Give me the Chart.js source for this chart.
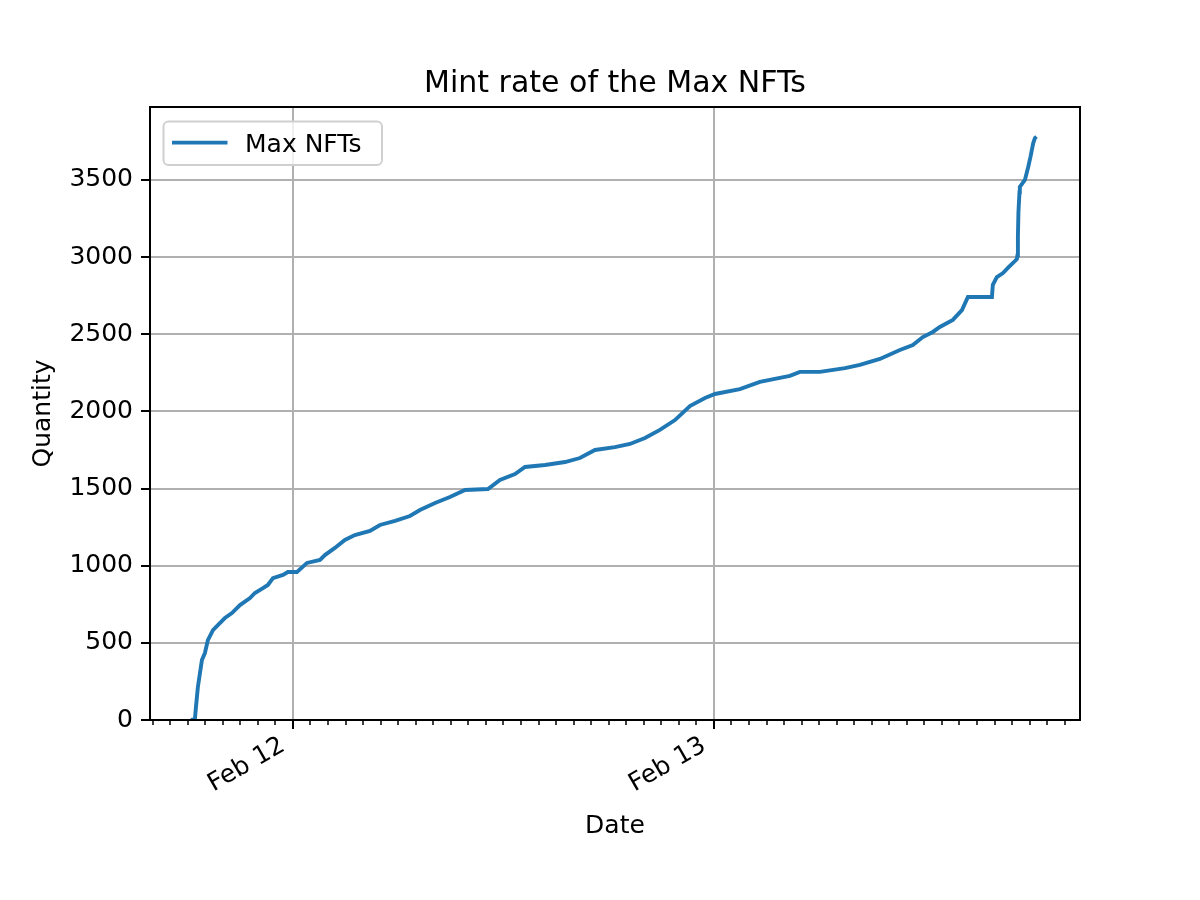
<!DOCTYPE html>
<html><head><meta charset="utf-8">
<script src="https://cdn.jsdelivr.net/npm/chart.js@4.4.1/dist/chart.umd.min.js"></script>
<style>html,body{margin:0;padding:0;background:#fff}canvas{display:block}</style>
</head><body>
<canvas id="c" width="1200" height="900"></canvas>
<script>
// Hours since Feb 12 00:00
const hours = [-5.82, -5.59, -5.53, -5.42, -5.19, -5.02, -4.85, -4.56, -4.28, -3.88, -3.48, -3.02, -2.45, -2.17, -1.71, -1.43, -1.14, -0.57, -0.29, 0.23, 0.80, 1.54, 1.82, 2.39, 2.96, 3.53, 4.39, 4.96, 5.82, 6.67, 7.24, 8.10, 8.95, 9.81, 11.12, 11.80, 12.66, 13.23, 14.37, 15.51, 16.36, 17.22, 18.36, 19.21, 20.07, 20.92, 21.78, 22.63, 23.49, 24.06, 25.48, 26.62, 27.76, 28.33, 28.90, 30.04, 31.47, 32.32, 33.46, 34.60, 35.34, 35.91, 36.48, 36.88, 37.62, 38.14, 38.48, 39.85, 39.90, 40.13, 40.48, 40.76, 41.05, 41.27, 41.30, 41.33, 41.36, 41.42, 41.44, 41.73, 41.92, 42.05, 42.20, 42.30, 42.39];
const quantity = [0, 5, 84, 214, 389, 434, 518, 583, 615, 661, 693, 745, 790, 823, 855, 875, 920, 940, 959, 959, 1018, 1037, 1069, 1115, 1167, 1199, 1225, 1264, 1290, 1322, 1361, 1406, 1445, 1491, 1497, 1556, 1594, 1640, 1653, 1672, 1698, 1750, 1769, 1789, 1828, 1880, 1944, 2035, 2087, 2113, 2145, 2191, 2217, 2230, 2256, 2256, 2281, 2301, 2340, 2398, 2430, 2482, 2515, 2547, 2593, 2657, 2742, 2742, 2820, 2871, 2897, 2930, 2962, 2988, 3010, 3130, 3290, 3420, 3455, 3500, 3586, 3651, 3738, 3772, 3781];
const seriesName = 'Max NFTs';
const xMajorHours = [0, 24];
const xMajorLabels = ['Feb 12', 'Feb 13'];
const xMinorFirst = -8, xMinorLast = 44;
const yTickValues = [0, 500, 1000, 1500, 2000, 2500, 3000, 3500];
const xLimits = [-8.15, 44.87];
const yLimits = [0, 3973];
const chartTitle = 'Mint rate of the Max NFTs';
const xTitle = 'Date';
const yTitle = 'Quantity';

const LINE = '#1f77b4';
const FONT = "'DejaVu Sans', sans-serif";

const xTickHours = [];
for (let h = xMinorFirst; h <= xMinorLast; h++) xTickHours.push(h);

const isMajor = v => xMajorHours.includes(v);

const framePlugin = {
  id: 'frame',
  beforeDraw(chart) {
    const ctx = chart.ctx;
    ctx.save(); ctx.fillStyle = '#fff'; ctx.fillRect(0, 0, chart.width, chart.height); ctx.restore();
  },
  afterDatasetsDraw(chart) {
    const ctx = chart.ctx, a = chart.chartArea;
    ctx.save();
    ctx.strokeStyle = '#000'; ctx.lineWidth = 2;
    ctx.strokeRect(a.left, a.top, a.right - a.left, a.bottom - a.top);
    // legend (matplotlib style, upper left inside axes)
    const ds = chart.data.datasets[0];
    const l = a.left + 13.5, t = a.top + 14.5, w = 218.5, h = 43.5;
    ctx.beginPath();
    if (ctx.roundRect) ctx.roundRect(l, t, w, h, 5); else ctx.rect(l, t, w, h);
    ctx.fillStyle = 'rgba(255,255,255,0.8)';
    ctx.fill();
    ctx.strokeStyle = '#d0d0d0'; ctx.lineWidth = 2;
    ctx.stroke();
    const cy = t + 21;
    ctx.beginPath();
    ctx.moveTo(l + 8.5, cy); ctx.lineTo(l + 64, cy);
    ctx.strokeStyle = ds.borderColor; ctx.lineWidth = 3.75; ctx.lineCap = 'butt';
    ctx.stroke();
    ctx.fillStyle = '#000';
    ctx.font = "25px 'DejaVu Sans', sans-serif";
    ctx.textBaseline = 'alphabetic'; ctx.textAlign = 'left';
    ctx.fillText(ds.label, l + 81.5, cy + 9);
    ctx.restore();
  }
};

new Chart(document.getElementById('c'), {
  type: 'line',
  data: {
    datasets: [{
      label: seriesName,
      data: hours.map((h, i) => ({ x: h, y: quantity[i] })),
      borderColor: LINE,
      backgroundColor: LINE,
      borderWidth: 3.9,
      pointRadius: 0,
      tension: 0,
      fill: false
    }]
  },
  options: {
    responsive: false,
    devicePixelRatio: 1,
    animation: false,
    layout: { padding: { left: 0, right: 120, top: 0, bottom: 0 } },
    plugins: {
      title: {
        display: true, text: chartTitle, color: '#000', fullSize: false,
        font: { family: FONT, size: 30, weight: 'normal' },
        padding: { top: 66, bottom: 5 }
      },
      legend: { display: false },
      tooltip: { enabled: false }
    },
    scales: {
      x: {
        type: 'linear', position: 'bottom',
        min: xLimits[0], max: xLimits[1],
        afterBuildTicks: s => { s.ticks = xTickHours.map(v => ({ value: v })); },
        afterFit: s => { s.height = 180; },
        border: { display: false },
        grid: {
          color: c => (c.tick && isMajor(c.tick.value)) ? '#b0b0b0' : 'rgba(0,0,0,0)',
          lineWidth: 2,
          drawTicks: true, tickLength: 9,
          tickColor: '#000',
          tickWidth: c => (c.tick && isMajor(c.tick.value)) ? 2 : 1.5,
          tickBorderDash: c => (c.tick && isMajor(c.tick.value)) ? [] : [5, 60]
        },
        ticks: {
          autoSkip: false, maxRotation: 30, minRotation: 30, padding: 2, labelOffset: -10,
          color: '#000', font: { family: FONT, size: 25 },
          callback: v => { const i = xMajorHours.indexOf(v); return i >= 0 ? xMajorLabels[i] : ''; }
        },
        title: { display: true, text: xTitle, color: '#000', font: { family: FONT, size: 25 }, padding: { top: 0, bottom: 59 } }
      },
      y: {
        type: 'linear', position: 'left',
        min: yLimits[0], max: yLimits[1],
        afterBuildTicks: s => { s.ticks = yTickValues.map(v => ({ value: v })); },
        afterFit: s => { s.width = 150; },
        border: { display: false },
        grid: { color: '#b0b0b0', lineWidth: 2, drawTicks: true, tickLength: 9, tickColor: '#000', tickWidth: 2 },
        ticks: { padding: 8, color: '#000', font: { family: FONT, size: 25 }, callback: v => String(v) },
        title: { display: true, text: yTitle, color: '#000', font: { family: FONT, size: 25 }, padding: { top: 28, bottom: 0 } }
      }
    }
  },
  plugins: [framePlugin]
});
</script>
</body></html>
